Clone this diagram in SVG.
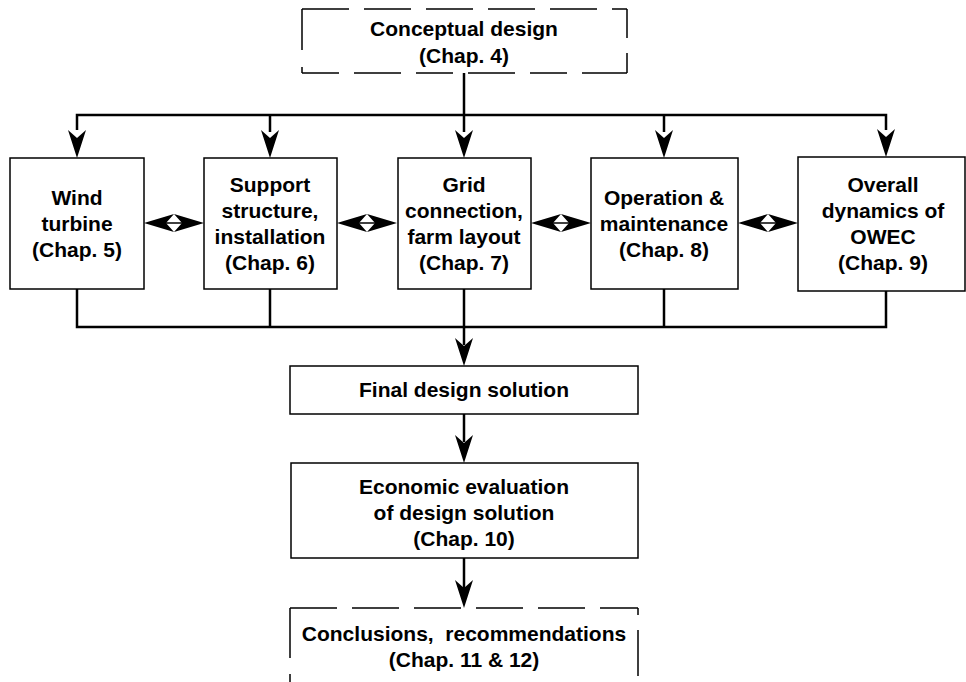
<svg xmlns="http://www.w3.org/2000/svg" width="966" height="682" viewBox="0 0 966 682">
  <style>
    .box { fill: #fff; stroke: #000; stroke-width: 1.5; }
    .dash { fill: none; stroke: #000; stroke-width: 1.5; }
    .lbl { font-family: "Liberation Sans", Arial, Helvetica, sans-serif; font-weight: bold; font-size: 21px; fill: #000; text-anchor: middle; }
    .wire { fill: none; stroke: #000; stroke-width: 2.5; }
    .head { fill: #000; stroke: none; }
  </style>
  <defs>
    <!-- notched downward arrowhead, tip at origin -->
    <path id="down" d="M0,0 L-9,-28 L0,-20 L9,-28 Z"/>
    <!-- double-headed link between neighbouring boxes, spans 0..60 -->
    <g id="dbl">
      <line x1="20" y1="0" x2="40" y2="0" stroke="#000" stroke-width="1.5"/>
      <path d="M0,0 L30,-9 L22,0 L30,9 Z" fill="#000"/>
      <path d="M60,0 L30,-9 L38,0 L30,9 Z" fill="#000"/>
    </g>
  </defs>

  <!-- connectors -->
  <g id="connectors">
    <!-- fan-out from conceptual design -->
    <polyline class="wire" points="464,73 464,115"/>
    <polyline class="wire" points="77,130 77,115 886,115 886,130"/>
    <line class="wire" x1="270" y1="115" x2="270" y2="132"/>
    <line class="wire" x1="664" y1="115" x2="664" y2="132"/>
    <line class="wire" x1="464" y1="115" x2="464" y2="132"/>
    <use href="#down" class="head" x="77" y="158"/>
    <use href="#down" class="head" x="270" y="158"/>
    <use href="#down" class="head" x="464" y="158"/>
    <use href="#down" class="head" x="664" y="158"/>
    <use href="#down" class="head" x="886" y="157"/>

    <!-- links between the five study boxes -->
    <use href="#dbl" x="144" y="223"/>
    <use href="#dbl" x="337" y="223"/>
    <use href="#dbl" x="531" y="223"/>
    <use href="#dbl" x="738" y="223"/>

    <!-- collector bus -->
    <polyline class="wire" points="77,289 77,327 886,327 886,291"/>
    <line class="wire" x1="270" y1="289" x2="270" y2="327"/>
    <line class="wire" x1="664" y1="289" x2="664" y2="327"/>
    <line class="wire" x1="464" y1="289" x2="464" y2="345"/>
    <use href="#down" class="head" x="464" y="366"/>

    <!-- final -> economic -> conclusions -->
    <line class="wire" x1="464" y1="414" x2="464" y2="442"/>
    <use href="#down" class="head" x="464" y="463"/>
    <line class="wire" x1="464" y1="558" x2="464" y2="588"/>
    <use href="#down" class="head" x="464" y="608"/>
  </g>

  <!-- conceptual design (dashed outline) -->
  <g id="conceptual">
    <line class="dash" x1="302" y1="9" x2="627" y2="9" stroke-dasharray="47 15"/>
    <line class="dash" x1="302" y1="73" x2="627" y2="73" stroke-dasharray="37 15 47 15"/>
    <line class="dash" x1="302" y1="9" x2="302" y2="73" stroke-dasharray="41 17"/>
    <line class="dash" x1="627" y1="9" x2="627" y2="73" stroke-dasharray="29 15"/>
    <text class="lbl" x="464" y="36">Conceptual design</text>
    <text class="lbl" x="464" y="63">(Chap. 4)</text>
  </g>

  <g id="wind-turbine">
    <rect class="box" x="10" y="158" width="134" height="131"/>
    <text class="lbl" x="77" y="205">Wind</text>
    <text class="lbl" x="77" y="231">turbine</text>
    <text class="lbl" x="77" y="257">(Chap. 5)</text>
  </g>

  <g id="support-structure">
    <rect class="box" x="204" y="158" width="133" height="131"/>
    <text class="lbl" x="270" y="192">Support</text>
    <text class="lbl" x="270" y="218">structure,</text>
    <text class="lbl" x="270" y="244">installation</text>
    <text class="lbl" x="270" y="270">(Chap. 6)</text>
  </g>

  <g id="grid-connection">
    <rect class="box" x="398" y="158" width="133" height="131"/>
    <text class="lbl" x="464" y="192">Grid</text>
    <text class="lbl" x="464" y="218">connection,</text>
    <text class="lbl" x="464" y="244">farm layout</text>
    <text class="lbl" x="464" y="270">(Chap. 7)</text>
  </g>

  <g id="operation-maintenance">
    <rect class="box" x="591" y="158" width="147" height="131"/>
    <text class="lbl" x="664" y="205">Operation &amp;</text>
    <text class="lbl" x="664" y="231">maintenance</text>
    <text class="lbl" x="664" y="257">(Chap. 8)</text>
  </g>

  <g id="overall-dynamics">
    <rect class="box" x="798" y="157" width="167" height="134"/>
    <text class="lbl" x="883" y="192">Overall</text>
    <text class="lbl" x="883" y="218">dynamics of</text>
    <text class="lbl" x="883" y="244">OWEC</text>
    <text class="lbl" x="883" y="270">(Chap. 9)</text>
  </g>

  <g id="final-design">
    <rect class="box" x="290" y="366" width="348" height="48"/>
    <text class="lbl" x="464" y="397">Final design solution</text>
  </g>

  <g id="economic-evaluation">
    <rect class="box" x="291" y="463" width="347" height="95"/>
    <text class="lbl" x="464" y="494">Economic evaluation</text>
    <text class="lbl" x="464" y="520">of design solution</text>
    <text class="lbl" x="464" y="546">(Chap. 10)</text>
  </g>

  <!-- conclusions (dashed outline, open at the bottom) -->
  <g id="conclusions">
    <line class="dash" x1="290" y1="608" x2="638" y2="608" stroke-dasharray="47 15"/>
    <line class="dash" x1="290" y1="608" x2="290" y2="682" stroke-dasharray="50 16"/>
    <line class="dash" x1="638" y1="608" x2="638" y2="676" stroke-dasharray="7 15 46 15"/>
    <text class="lbl" x="464" y="641" xml:space="preserve">Conclusions,  recommendations</text>
    <text class="lbl" x="464" y="667">(Chap. 11 &amp; 12)</text>
  </g>
</svg>
